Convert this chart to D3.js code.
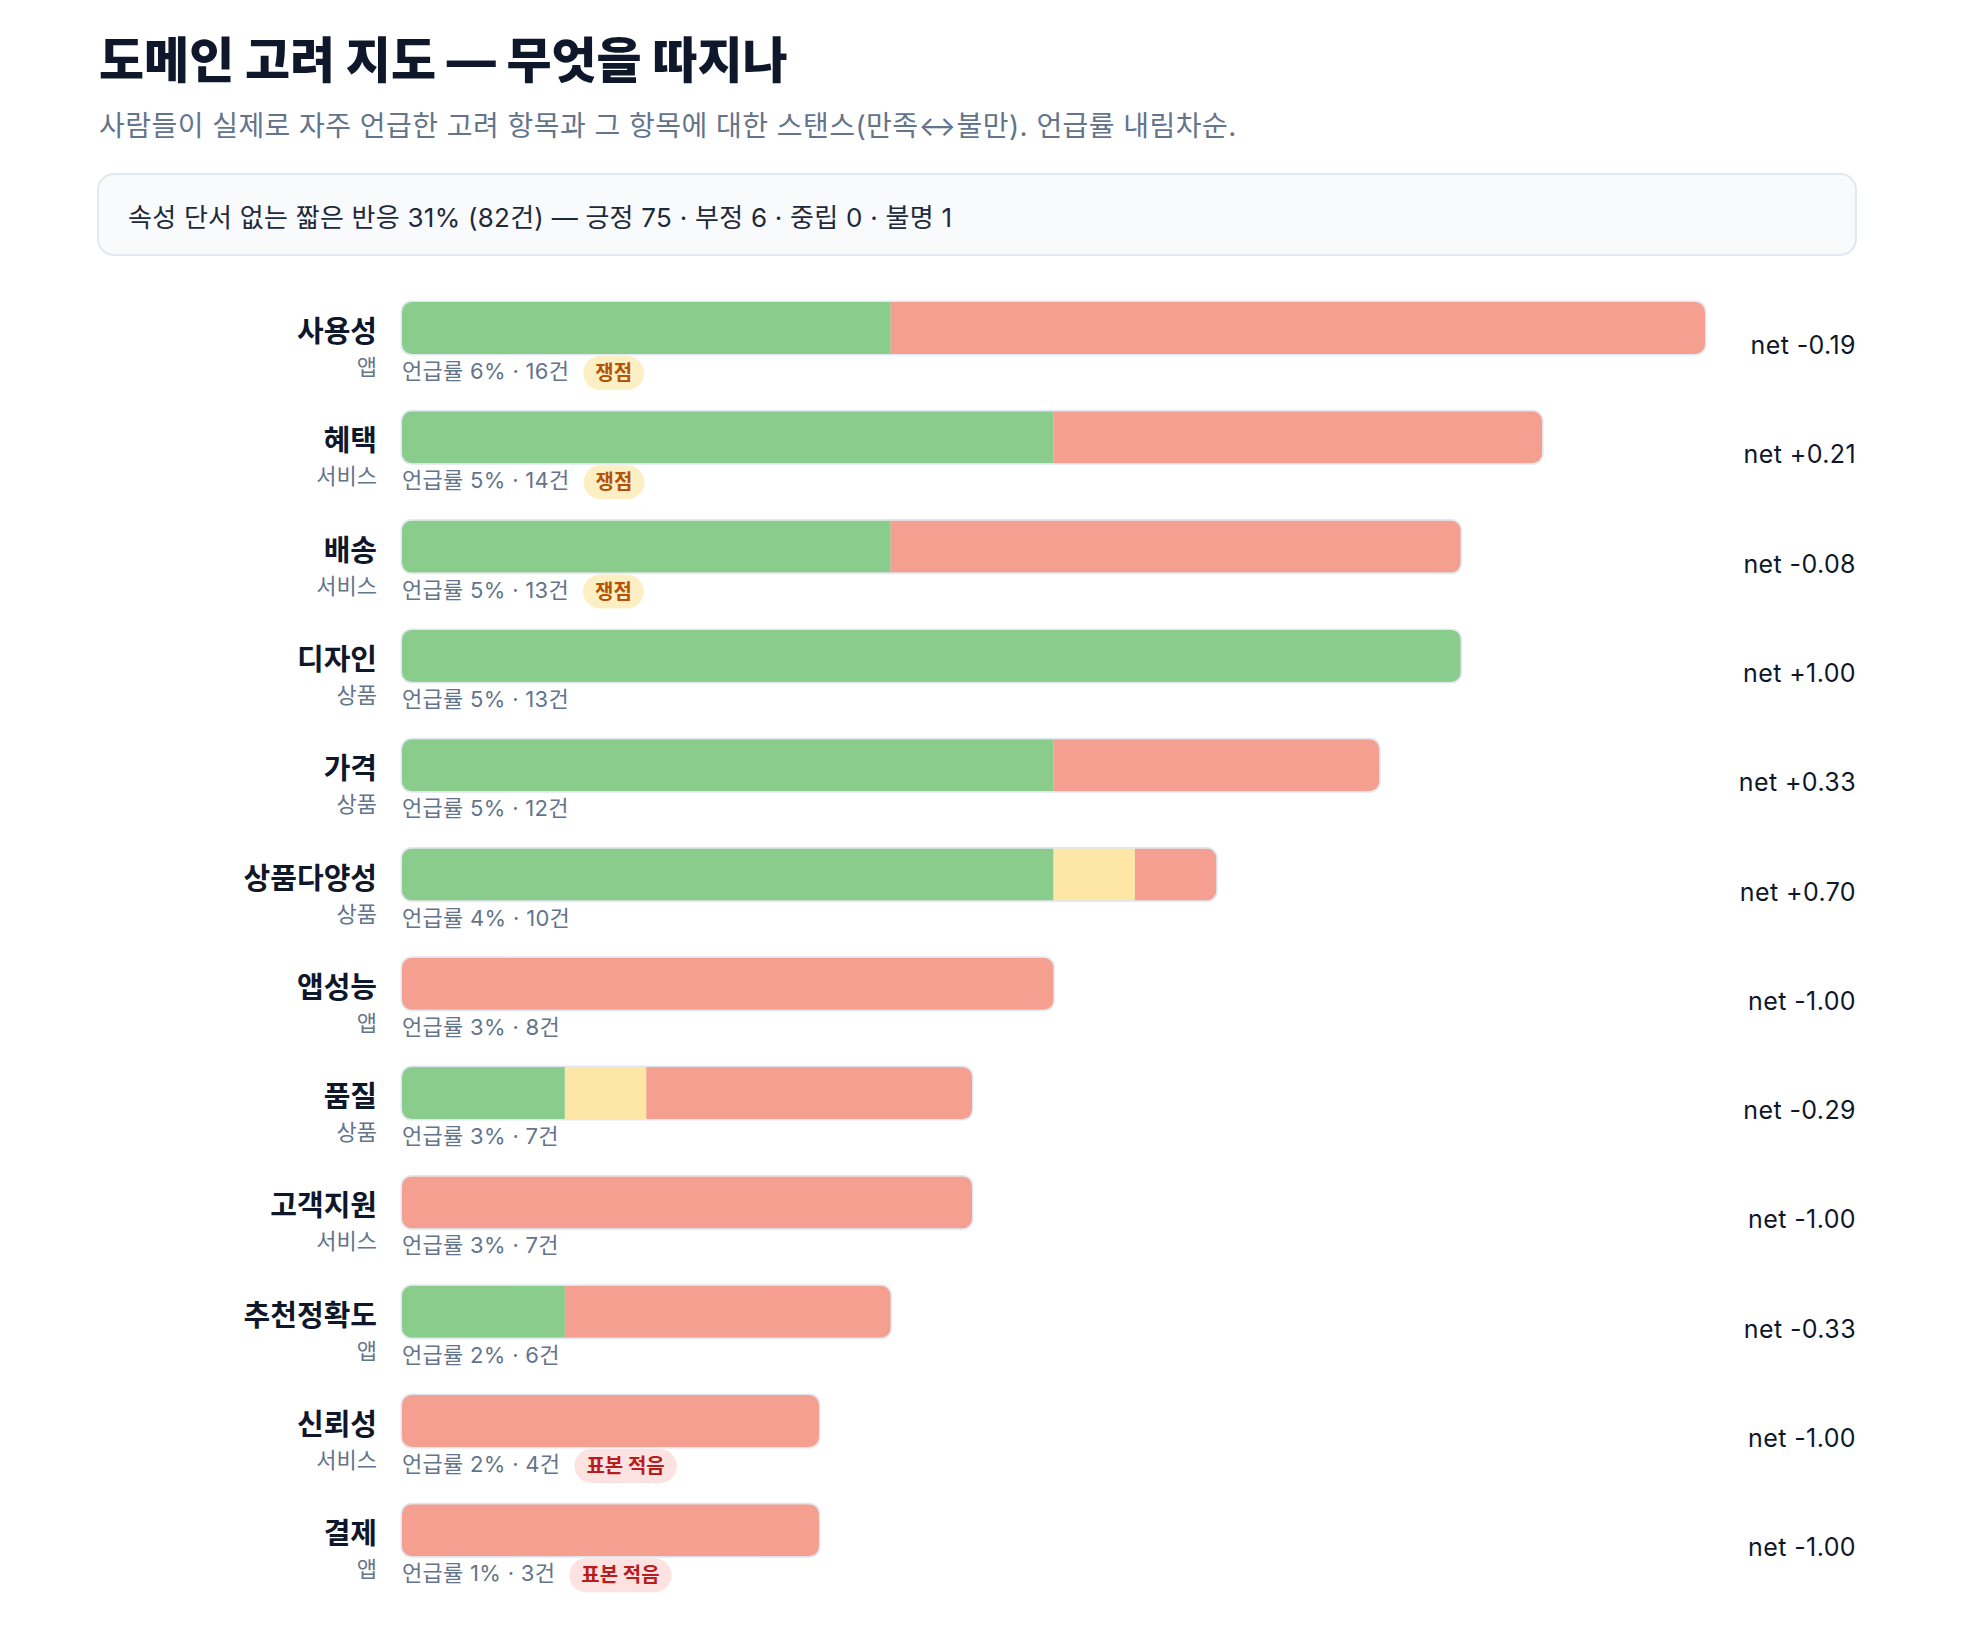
<!DOCTYPE html>
<html>
<head>
<meta charset="utf-8">
<script src="https://cdn.jsdelivr.net/npm/d3@7"></script>
<style>
  html, body { margin: 0; padding: 0; background: #ffffff; }
  svg { display: block; font-family: "Inter", "Noto Sans CJK KR", "Noto Sans", sans-serif; }
</style>
</head>
<body>
<div id="chart"></div>
<script>
  // data:
  var names = ["사용성", "혜택", "배송", "디자인", "가격", "상품다양성", "앱성능", "품질", "고객지원", "추천정확도", "신뢰성", "결제"];
  var groups = ["앱", "서비스", "서비스", "상품", "상품", "상품", "앱", "상품", "서비스", "앱", "서비스", "앱"];
  var rates = [6, 5, 5, 5, 5, 4, 3, 3, 3, 2, 2, 1];
  var counts = [16, 14, 13, 13, 12, 10, 8, 7, 7, 6, 4, 3];
  var positives = [6, 8, 6, 13, 8, 8, 0, 2, 0, 2, 0, 0];
  var neutrals = [0, 0, 0, 0, 0, 1, 0, 1, 0, 0, 0, 0];
  var negatives = [10, 6, 7, 0, 4, 1, 8, 4, 7, 4, 4, 3];
  var nets = [-0.19, 0.21, -0.08, 1.00, 0.33, 0.70, -1.00, -0.29, -1.00, -0.33, -1.00, -1.00];
  var badges = ["쟁점", "쟁점", "쟁점", null, null, null, null, null, null, null, "표본 적음", "표본 적음"];

  var titleText = "도메인 고려 지도 — 무엇을 따지나";
  var subtitleText = "사람들이 실제로 자주 언급한 고려 항목과 그 항목에 대한 스탠스(만족↔불만). 언급률 내림차순.";
  var noteText = "속성 단서 없는 짧은 반응 31% (82건) — 긍정 75 · 부정 6 · 중립 0 · 불명 1";

  // parameters:
  var width = 1984, height = 1639;
  var padLeft = 98, contentRight = 1856;
  var barLeft = 402, barRight = 1705;
  var rowTop = 302, rowStep = 109.3, barHeight = 52;
  var minFrac = 0.32; // small bars keep a minimum length
  var colors = { pos: "#89cc8b", neu: "#fde6a6", neg: "#f59f90" };
  var badgeStyles = {
    "쟁점": { fill: "#fdefc4", text: "#b45309" },
    "표본 적음": { fill: "#fde2e2", text: "#b91c1c" }
  };

  var svg = d3.select("#chart").append("svg")
    .attr("width", width)
    .attr("height", height);

  svg.append("rect").attr("width", width).attr("height", height).attr("fill", "#ffffff");

  // title + subtitle:
  svg.append("text")
    .attr("x", padLeft + 1).attr("y", 78)
    .attr("font-size", 49).attr("font-weight", 800)
    .attr("fill", "#0f172a")
    .text(titleText);
  svg.append("text")
    .attr("x", padLeft + 1).attr("y", 136)
    .attr("font-size", 28)
    .attr("letter-spacing", 0.45)
    .attr("fill", "#64748b")
    .text(subtitleText);

  // note box:
  svg.append("rect")
    .attr("x", padLeft).attr("y", 174)
    .attr("width", contentRight - padLeft).attr("height", 81)
    .attr("rx", 16)
    .attr("fill", "#f8fafc")
    .attr("stroke", "#e2e8f0").attr("stroke-width", 2);
  svg.append("text")
    .attr("x", 128).attr("y", 227)
    .attr("font-size", 26)
    .attr("letter-spacing", 0.25)
    .attr("fill", "#1e293b")
    .text(noteText);

  var x = d3.scaleLinear()
    .domain([0, d3.max(counts)])
    .range([0, barRight - barLeft]);

  var rows = names.map(function (n, i) {
    return {
      name: n, group: groups[i], rate: rates[i], count: counts[i],
      pos: positives[i], neu: neutrals[i], neg: negatives[i],
      net: nets[i], badge: badges[i]
    };
  });

  var rowG = svg.selectAll("g.row")
    .data(rows)
    .enter().append("g")
    .attr("class", "row")
    .attr("transform", function (d, i) { return "translate(0," + (rowTop + i * rowStep) + ")"; });

  rowG.each(function (d, i) {
    var g = d3.select(this);
    var w = Math.max(x(d.count), minFrac * x.range()[1]);

    // labels on the left:
    g.append("text")
      .attr("x", 377).attr("y", 40)
      .attr("text-anchor", "end")
      .attr("font-size", 29).attr("font-weight", 700)
      .attr("fill", "#0f172a")
      .text(d.name);
    g.append("text")
      .attr("x", 377).attr("y", 73)
      .attr("text-anchor", "end")
      .attr("font-size", 22)
      .attr("fill", "#64748b")
      .text(d.group);

    // bar frame + stacked segments:
    var clipId = "clip" + i;
    g.append("clipPath").attr("id", clipId)
      .append("rect")
      .attr("x", barLeft).attr("y", 0)
      .attr("width", w).attr("height", barHeight)
      .attr("rx", 10);
    g.append("rect")
      .attr("x", barLeft - 1.5).attr("y", -1.5)
      .attr("width", w + 3).attr("height", barHeight + 3)
      .attr("rx", 11)
      .attr("fill", "#e2e8f0");
    var seg = d3.scaleLinear().domain([0, d.count]).range([0, w]);
    var segs = [
      { n: d.pos, c: colors.pos },
      { n: d.neu, c: colors.neu },
      { n: d.neg, c: colors.neg }
    ];
    var acc = 0;
    var segG = g.append("g").attr("clip-path", "url(#" + clipId + ")");
    segs.forEach(function (s) {
      if (s.n > 0) {
        segG.append("rect")
          .attr("x", barLeft + seg(acc)).attr("y", 0)
          .attr("width", seg(s.n)).attr("height", barHeight)
          .attr("fill", s.c);
      }
      acc += s.n;
    });

    // meta line under the bar:
    var meta = g.append("text")
      .attr("x", barLeft).attr("y", 77)
      .attr("font-size", 22)
      .attr("letter-spacing", 0.3)
      .attr("fill", "#64748b")
      .text("언급률 " + d.rate + "% · " + d.count + "건");

    if (d.badge) {
      var st = badgeStyles[d.badge];
      var bx = barLeft + meta.node().getComputedTextLength() + 14;
      var bg = g.append("g");
      var bt = bg.append("text")
        .attr("y", 78)
        .attr("font-size", 20).attr("font-weight", 700)
        .attr("fill", st.text)
        .text(d.badge);
      var tw = bt.node().getComputedTextLength();
      bg.insert("rect", "text")
        .attr("x", bx).attr("y", 54)
        .attr("width", tw + 24).attr("height", 34)
        .attr("rx", 17)
        .attr("fill", st.fill);
      bt.attr("x", bx + 12);
    }

    // net value on the right:
    g.append("text")
      .attr("x", contentRight).attr("y", 52)
      .attr("text-anchor", "end")
      .attr("font-size", 25)
      .attr("letter-spacing", 0.4)
      .attr("fill", "#0f172a")
      .text("net " + (d.net > 0 ? "+" : d.net < 0 ? "-" : "") + Math.abs(d.net).toFixed(2));
  });
</script>
</body>
</html>
